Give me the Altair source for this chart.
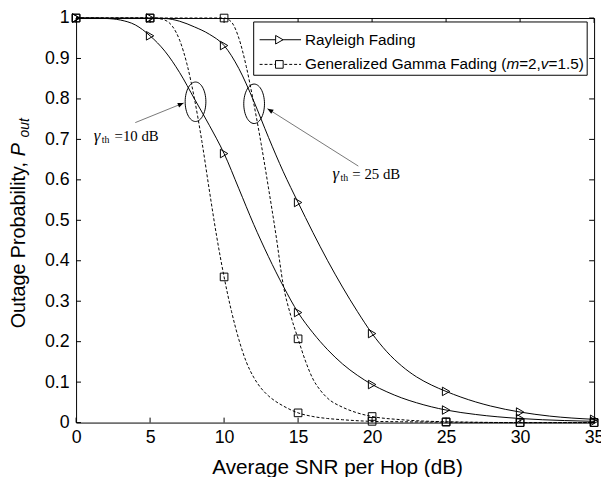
import altair as alt
import pandas as pd
import numpy as np

# ---------------- data ----------------
# Rayleigh fading, gamma_th = 10 dB (left solid curve)
ray10_x = [0, 1, 2, 3, 4, 5, 6, 7, 8, 9, 10, 11, 12, 13, 14, 15, 16, 17, 18, 19, 20,
           21, 22, 23, 24, 25, 27, 30, 33, 35]
ray10_y = [1.0, 1.0, 0.999, 0.995, 0.983, 0.956, 0.918, 0.865, 0.80, 0.735, 0.665,
           0.578, 0.49, 0.41, 0.337, 0.272, 0.222, 0.18, 0.145, 0.117, 0.094,
           0.076, 0.061, 0.049, 0.039, 0.031, 0.02, 0.01, 0.005, 0.003]
# Rayleigh fading, gamma_th = 25 dB (right solid curve)
ray25_x = [0, 5, 6, 7, 8, 9, 10, 11, 12, 13, 14, 15, 16, 17, 18, 19, 20, 21, 22, 23,
           24, 25, 26, 27, 28, 30, 32, 35]
ray25_y = [1.0, 1.0, 0.999, 0.992, 0.978, 0.96, 0.932, 0.875, 0.795, 0.705, 0.62,
           0.544, 0.47, 0.40, 0.335, 0.275, 0.22, 0.175, 0.14, 0.113, 0.093, 0.077,
           0.063, 0.051, 0.041, 0.026, 0.016, 0.008]
# Generalized Gamma fading (m=2, v=1.5), gamma_th = 10 dB (left dashed)
gg10_x = [0, 5, 5.5, 6, 6.5, 7, 7.5, 8, 8.5, 9, 9.5, 10, 10.5, 11, 11.5, 12, 12.5,
          13, 13.5, 14, 15, 16, 17, 18, 20, 22, 25, 30, 35]
gg10_y = [1.0, 1.0, 0.999, 0.995, 0.98, 0.945, 0.885, 0.80, 0.695, 0.575, 0.46,
          0.36, 0.275, 0.205, 0.15, 0.112, 0.085, 0.066, 0.052, 0.041, 0.024,
          0.015, 0.01, 0.007, 0.003, 0.002, 0.001, 0.0, 0.0]
# Generalized Gamma fading (m=2, v=1.5), gamma_th = 25 dB (right dashed)
gg25_x = [0, 5, 10, 10.5, 11, 11.5, 12, 12.5, 13, 13.5, 14, 14.5, 15, 15.5, 16,
          16.5, 17, 18, 19, 20, 22, 25, 30, 35]
gg25_y = [1.0, 1.0, 1.0, 0.99, 0.95, 0.88, 0.79, 0.69, 0.58, 0.465, 0.34, 0.265,
          0.207, 0.152, 0.108, 0.08, 0.06, 0.038, 0.024, 0.015, 0.007, 0.002, 0.0, 0.0]

x_ticks = [0, 5, 10, 15, 20, 25, 30, 35]
y_ticks = [0, 0.1, 0.2, 0.3, 0.4, 0.5, 0.6, 0.7, 0.8, 0.9, 1.0]

legend_labels = ["Rayleigh Fading", "Generalized Gamma Fading ("]
x_title = "Average SNR per Hop (dB)"
y_title = "Outage Probability,"

# annotation anchors (data coordinates)
ell_x = [8.07, 12.03]
ell_y = [0.793, 0.788]
arrow_x = [4.0, 19.07]
arrow_y = [0.7415, 0.634]
arrow_x2 = [7.27, 12.93]
arrow_y2 = [0.790, 0.776]
arrow_angle = [338, 212]

# ---------------- build tables ----------------
def curve(name, fam, xv, yv):
    return pd.DataFrame({"x": xv, "y": yv, "series": name, "fam": fam})

df = pd.concat([
    curve("r10", "R", ray10_x, ray10_y),
    curve("r25", "R", ray25_x, ray25_y),
    curve("g10", "G", gg10_x, gg10_y),
    curve("g25", "G", gg25_x, gg25_y),
], ignore_index=True)

W, H = 525, 410
SANS = "Liberation Sans, Arial, Helvetica"
SERIF = "Liberation Serif, Times New Roman, serif"

xs = alt.Scale(domain=[0, 35], nice=False, zero=False)
ys = alt.Scale(domain=[0, 1], nice=False, zero=False)

XA = alt.Axis(values=x_ticks, ticks=False, domain=False, grid=False,
              labelFontSize=18, labelFont=SANS, labelColor="black",
              labelPadding=6, format="d", title=None,
              labelOverlap=False, labelFlush=False)
YA = alt.Axis(values=y_ticks, ticks=False, domain=False, grid=False,
              labelFontSize=18, labelFont=SANS, labelColor="black",
              labelPadding=7, format=".1~f", title=None,
              labelOverlap=False, labelFlush=False)


def X(f="x"):
    return alt.X(f"{f}:Q", scale=xs, axis=XA, title=None)


def Y(f="y"):
    return alt.Y(f"{f}:Q", scale=ys, axis=YA, title=None)


base = alt.Chart(df)

ray_lines = base.transform_filter("datum.fam == 'R'").mark_line(
    color="black", strokeWidth=1, interpolate="monotone"
).encode(x=X(), y=Y(), detail="series:N")

gg_lines = base.transform_filter("datum.fam == 'G'").mark_line(
    color="black", strokeWidth=1, strokeDash=[3, 2], interpolate="monotone"
).encode(x=X(), y=Y(), detail="series:N")

ray_pts = base.transform_filter("datum.fam == 'R' && datum.x % 5 == 0").mark_point(
    shape="triangle-right", size=75, filled=False, color="black", strokeWidth=1, opacity=1
).encode(x=X(), y=Y())

gg_pts = base.transform_filter("datum.fam == 'G' && datum.x % 5 == 0").mark_point(
    shape="square", size=60, filled=False, color="black", strokeWidth=1, opacity=1
).encode(x=X(), y=Y())

# inside tick marks on all four sides
xt = pd.DataFrame({"x": x_ticks})
yt = pd.DataFrame({"y": y_ticks})
TL = 5
tick_b = alt.Chart(xt).mark_rule(color="black", strokeWidth=1).encode(
    x=X(), y=alt.value(H), y2=alt.value(H - TL))
tick_t = alt.Chart(xt).mark_rule(color="black", strokeWidth=1).encode(
    x=X(), y=alt.value(0), y2=alt.value(TL))
tick_l = alt.Chart(yt).mark_rule(color="black", strokeWidth=1).encode(
    y=Y(), x=alt.value(0), x2=alt.value(TL))
tick_r = alt.Chart(yt).mark_rule(color="black", strokeWidth=1).encode(
    y=Y(), x=alt.value(W), x2=alt.value(W - TL))

# ellipses
ang = np.linspace(0, 2 * np.pi, 61)[:-1]
ell_path = "M " + " L ".join(f"{0.525 * np.cos(a):.4f} {np.sin(a):.4f}" for a in ang) + " Z"
ell_df = pd.DataFrame({"x": ell_x, "y": ell_y})
ellipses = alt.Chart(ell_df).mark_point(
    shape=ell_path, size=1600, filled=False, color="black", strokeWidth=1, opacity=1
).encode(x=X(), y=Y())

# arrows
arr_df = pd.DataFrame({"x": arrow_x, "y": arrow_y, "x2": arrow_x2, "y2": arrow_y2,
                       "ang": arrow_angle})
arrow_lines = alt.Chart(arr_df).mark_rule(color="#555555", strokeWidth=0.8).encode(
    x=X(), y=Y(), x2="x2:Q", y2="y2:Q")
head_path = "M 0 0 L -1 -0.4 L -1 0.4 Z"
arrow_heads = alt.Chart(arr_df).mark_point(
    shape=head_path, size=144, filled=True, color="black", opacity=1, strokeWidth=0
).encode(x=X("x2"), y=Y("y2"), angle=alt.Angle("ang:Q", scale=None))


def txt(s, x, y, size, style="normal", font=SERIF, align="left", angle=None, baseline="middle"):
    kw = dict(text=s, fontSize=size, font=font, fontStyle=style, align=align,
              baseline=baseline, color="black")
    if angle is not None:
        kw["angle"] = angle
    return alt.Chart(pd.DataFrame({"a": [0]})).mark_text(**kw).encode(
        x=alt.value(x), y=alt.value(y))


ann = [
    txt("γ", 18, 120, 17, "italic"),
    txt("th", 26, 124, 10),
    txt("=10 dB", 39, 120, 15),
    txt("γ", 260, 158, 17, "italic"),
    txt("th", 268, 162, 10),
    txt("= 25 dB", 280, 158, 15),
]

# legend
LFS = 15.5
wid = {'G': 778, 'e': 556, 'n': 556, 'r': 333, 'a': 556, 'l': 222, 'i': 222, 'z': 500,
       'd': 556, ' ': 278, 'm': 833, 'F': 611, 'g': 556, '(': 333, ')': 333, '=': 584,
       '2': 556, ',': 278, 'v': 500, '1': 556, '.': 278, '5': 556}


def tw(s):
    return sum(wid[c] for c in s) * LFS / 1000.0


lx0, lx1, ly0, ly1 = 180, 518, 4, 58
r1, r2 = 22, 47
one = pd.DataFrame({"a": [0]})
leg_box = alt.Chart(one).mark_rect(
    fill="white", stroke="black", strokeWidth=1).encode(
    x=alt.value(lx0), x2=alt.value(lx1), y=alt.value(ly0), y2=alt.value(ly1))
leg_l1 = alt.Chart(one).mark_rule(color="black", strokeWidth=1).encode(
    x=alt.value(186), x2=alt.value(228), y=alt.value(r1))
leg_l2 = alt.Chart(one).mark_rule(
    color="black", strokeWidth=1, strokeDash=[3, 2]).encode(
    x=alt.value(186), x2=alt.value(228), y=alt.value(r2))
leg_m1 = alt.Chart(one).mark_point(
    shape="triangle-right", size=75, filled=True, fill="white", stroke="black",
    strokeWidth=1, opacity=1).encode(x=alt.value(206), y=alt.value(r1))
leg_m2 = alt.Chart(one).mark_point(
    shape="square", size=60, filled=True, fill="white", stroke="black",
    strokeWidth=1, opacity=1).encode(x=alt.value(206), y=alt.value(r2))
tx = 232
pieces = [(legend_labels[1], "normal"), ("m", "italic"), ("=2,", "normal"),
          ("v", "italic"), ("=1.5)", "normal")]
leg_txt = [txt(legend_labels[0], tx, r1, LFS, font=SANS)]
cx = tx
for s, st in pieces:
    leg_txt.append(txt(s, cx, r2, LFS, st, font=SANS))
    cx += tw(s)

# axis titles
titles = [
    txt(x_title, 265, 456, 21, font=SANS, align="center"),
    txt(y_title, -58, 146, 20, font=SANS, align="right", angle=270),
    txt("P", -58, 140, 20, "italic", font=SANS, align="left", angle=270),
    txt("out", -52, 121, 14, "italic", font=SANS, align="left", angle=270),
]

chart = alt.layer(
    ray_lines, gg_lines, ray_pts, gg_pts,
    tick_b, tick_t, tick_l, tick_r,
    ellipses, arrow_lines, arrow_heads,
    *ann, leg_box, leg_l1, leg_l2, leg_m1, leg_m2, *leg_txt, *titles
).properties(
    width=W, height=H,
    autosize=alt.AutoSizeParams(type="none"),
    padding={"left": 69, "top": 7, "right": 7, "bottom": 52},
    background="white",
).configure_view(stroke="black", strokeWidth=1)

chart.save("out.html", embed_options={"renderer": "svg", "actions": False})
